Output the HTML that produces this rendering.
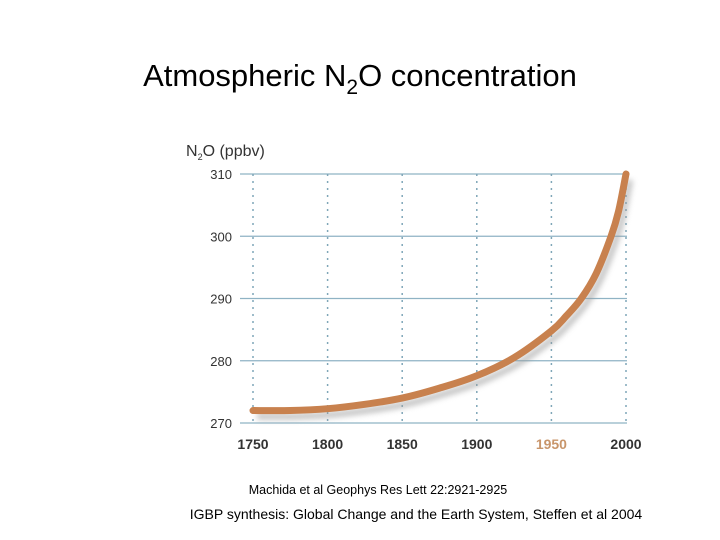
<!DOCTYPE html>
<html><head><meta charset="utf-8"><style>
body{margin:0;background:#fff;}
#wrap{position:relative;width:720px;height:540px;overflow:hidden;font-family:"Liberation Sans",sans-serif;}
</style></head><body>
<div id="wrap">
<svg width="720" height="540">
<defs><filter id="sh" x="-10%" y="-10%" width="130%" height="130%"><feGaussianBlur stdDeviation="3"/></filter></defs>
<text x="360" y="86" text-anchor="middle" font-size="31" fill="#000">Atmospheric N<tspan font-size="21" dy="8">2</tspan><tspan dy="-8">O concentration</tspan></text>
<text x="186" y="156" font-size="16" fill="#333">N<tspan font-size="9" dy="4">2</tspan><tspan dy="-4">O  (ppbv)</tspan></text>
<g id="grid"></g><g id="marks"></g>
<text x="378" y="494" text-anchor="middle" font-size="12.5" fill="#000">Machida et al Geophys Res Lett 22:2921-2925</text>
<text x="416" y="519" text-anchor="middle" font-size="14" fill="#000">IGBP synthesis: Global Change and the Earth System, Steffen et al 2004</text>
</svg>
</div>
<script>
const yTicks=[270,280,290,300,310];
const xTicks=[1750,1800,1850,1900,1950,2000];
const years=[1750,1775,1800,1825,1850,1875,1900,1925,1950,1960,1970,1980,1990,1995,2000];
const n2o=[272,272,272.3,273,274,275.6,277.6,280.5,284.8,287.2,290,294,300,304,310];
const ns="http://www.w3.org/2000/svg";
function X(v){return 253+(v-1750)*(626-253)/250;}
function Y(v){return 423-(v-270)*(423-174)/40;}
const grid=document.getElementById('grid'),marks=document.getElementById('marks');
function mk(tag,attrs,parent,txt){const e=document.createElementNS(ns,tag);for(const k in attrs)e.setAttribute(k,attrs[k]);if(txt!=null)e.textContent=txt;parent.appendChild(e);return e;}
yTicks.forEach(t=>{
 const l=mk('line',{x1:240,x2:627,y1:Y(t),y2:Y(t),stroke:'#8fb3c4','stroke-width':1.3},grid);
 
 
 const tx=mk('text',{x:232,y:Y(t)+5,'text-anchor':'end','font-size':13,fill:'#333'},grid,t);
 
 
});
xTicks.forEach(t=>{
 const l=mk('line',{x1:X(t),x2:X(t),y1:Y(310),y2:Y(270),stroke:'#7fa6b8','stroke-width':1.5,'stroke-dasharray':'2 5'},grid);
 
 
 const tx=mk('text',{x:X(t),y:449,'text-anchor':'middle','font-size':14,'font-weight':'bold',fill:t===1950?'#c8956a':'#333'},grid,t);
 
 
});
const pts=years.map((y,i)=>[X(y),Y(n2o[i])]);
let d='M'+pts[0][0]+','+pts[0][1];
for(let i=0;i<pts.length-1;i++){const p0=pts[Math.max(0,i-1)],p1=pts[i],p2=pts[i+1],p3=pts[Math.min(pts.length-1,i+2)];
 d+=' C'+(p1[0]+(p2[0]-p0[0])/6)+','+(p1[1]+(p2[1]-p0[1])/6)+' '+(p2[0]-(p3[0]-p1[0])/6)+','+(p2[1]-(p3[1]-p1[1])/6)+' '+p2[0]+','+p2[1];}
const sh=mk('path',{d:d,fill:'none',stroke:'#999','stroke-width':6,opacity:0.6,filter:'url(#sh)',transform:'translate(4,6)'},marks);


const ln=mk('path',{d:d,fill:'none',stroke:'#c8814e','stroke-width':7,'stroke-linecap':'round'},marks);


</script>
</body></html>
